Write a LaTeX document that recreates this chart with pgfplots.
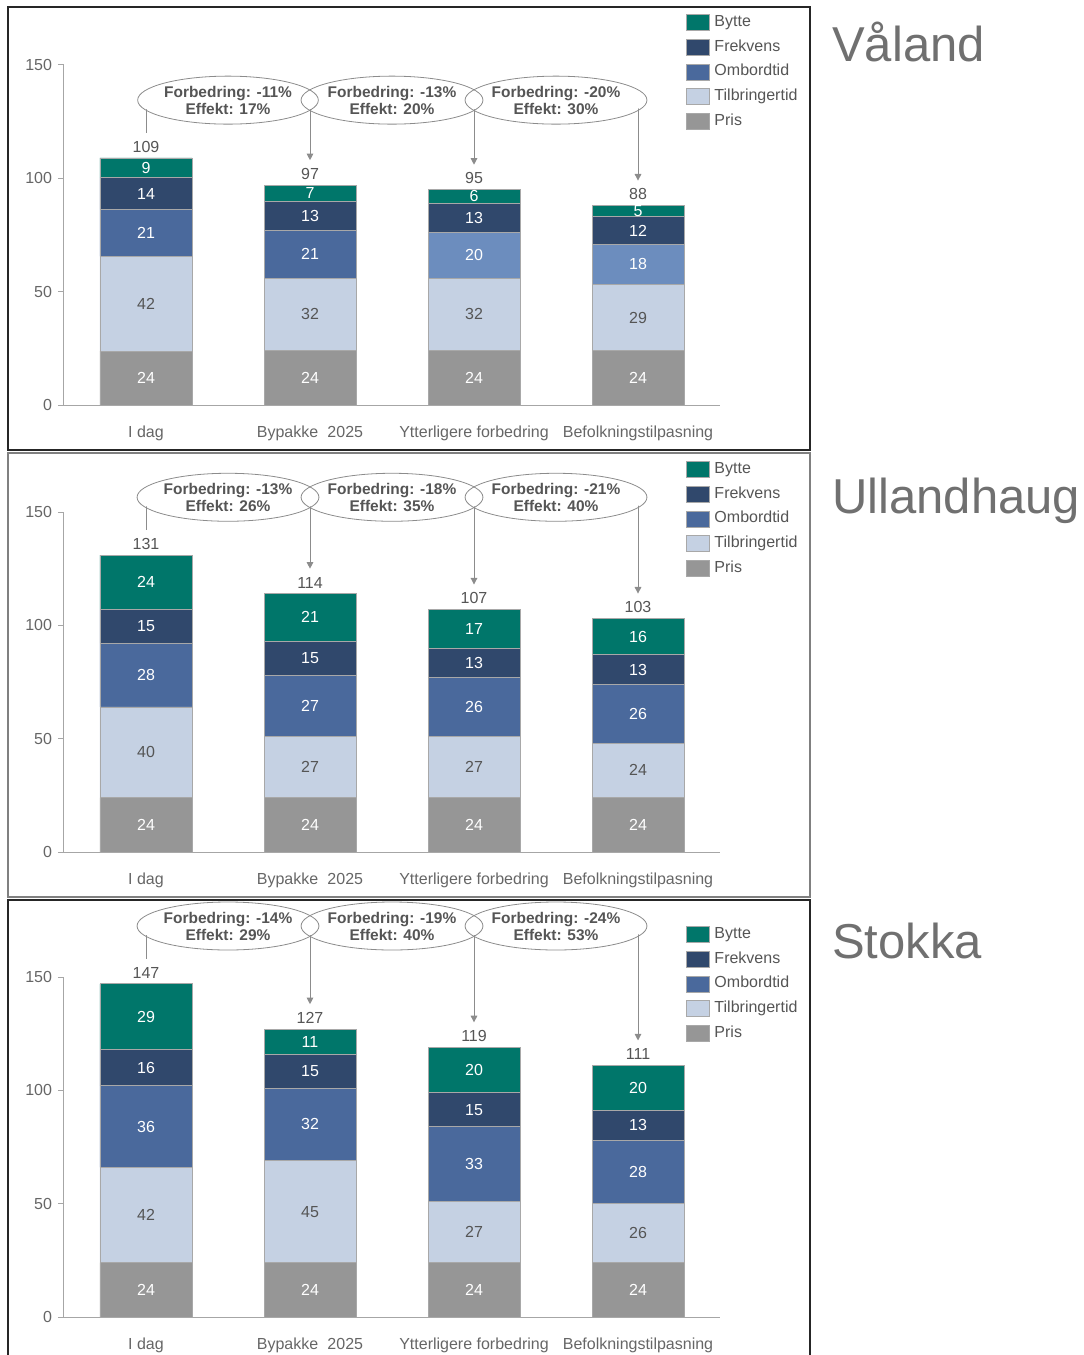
\documentclass[border=0pt]{standalone}
\usepackage{pgfplots}
\pgfplotsset{compat=1.18}
\usepackage{pgfplotstable}
\usepackage{fontspec}
\setmainfont{Liberation Sans}
\usetikzlibrary{arrows.meta,shapes.geometric}

\definecolor{cBytte}{HTML}{00766A}
\definecolor{cFrek}{HTML}{30486C}
\definecolor{cOmb}{HTML}{4A699C}
\definecolor{cOmbL}{HTML}{6C8DBE}
\definecolor{cTilb}{HTML}{C5D1E3}
\definecolor{cPris}{HTML}{969696}
\definecolor{cEdge}{HTML}{A8A8A8}
\definecolor{cAxis}{HTML}{A6A6A6}
\definecolor{cText}{HTML}{555555}
\definecolor{cTick}{HTML}{666666}
\definecolor{cTitle}{HTML}{707070}
\definecolor{cArrow}{HTML}{8C8C8C}

% x: 0 I dag, 1 Bypakke 2025, 2 Ytterligere forbedring, 3 Befolkningstilpasning
% lt = 1 where Ombordtid is drawn in the lighter shade
\pgfplotstableread{
x pris tilb omb  frek bytte total lt
0 23.8 41.8 20.8 13.8 8.8  109   0
1 24   32   21   13   7    97    0
2 24   32   20   13   6    95    1
3 24   29   18   12   5    88    1
}\valand
\pgfplotstableread{
x pris tilb omb frek bytte total lt
0 24 40 28 15 24 131 0
1 24 27 27 15 21 114 0
2 24 27 26 13 17 107 0
3 24 24 26 13 16 103 0
}\ullandhaug
\pgfplotstableread{
x pris tilb omb frek bytte total lt
0 24 42 36 16 29 147 0
1 24 45 32 15 11 127 0
2 24 27 33 15 20 119 0
3 24 26 28 13 20 111 0
}\stokka

\newcommand{\lblfont}{\fontsize{12}{14}\selectfont}

\tikzset{
  bubble/.style={ellipse, minimum width=132pt, minimum height=36pt, inner sep=0pt},
  bubbletext/.style={bubble, draw=cArrow, line width=0.6pt, align=center,
    font=\bfseries\fontsize{11.6}{12.75}\selectfont, text=cText},
}

\pgfplotsset{
  panel/.style={
    scale only axis, width=492pt, height=255pt,
    anchor=south west,
    xmin=-0.5, xmax=3.5, ymin=0, ymax=150,
    clip=false,
    /pgf/number format/assume math mode=true,
  },
  barpanel/.style={
    panel,
    ybar stacked, bar width=69pt,
    axis x line=bottom, axis y line=left,
    axis line style={cAxis, line width=0.75pt, -},
    xtick={0,1,2,3},
    xticklabels={I dag, Bypakke\hspace{0.3em} 2025, Ytterligere forbedring, Befolkningstilpasning},
    xtick style={draw=none},
    ytick={0,50,100,150},
    ytick style={cAxis, line width=0.75pt},
    tick align=outside, major tick length=4.5pt,
    tick label style={font=\lblfont, text=cTick},
    xticklabel style={yshift=-8pt},
    yticklabel style={xshift=-1pt},
    reverse legend,
    legend style={at={(0.948,1.15)}, anchor=north west, draw=none, fill=none,
      inner sep=0pt, font=\lblfont, text=cText, row sep=6pt, column sep=3.75pt,
      nodes={inner sep=0pt, text height=9pt, text depth=3pt}},
    legend cell align=left,
    legend image code/.code={\draw[##1, draw=cEdge, line width=0.5pt] (0pt,-6pt) rectangle (17pt,6pt);},
    every axis plot/.append style={draw=cEdge, line width=0.6pt},
  },
  labelpanel/.style={
    panel, hide axis,
    point meta=explicit,
    nodes near coords={\pgfmathprintnumber[fixed,precision=0]{\pgfplotspointmeta}},
    every node near coord/.append style={anchor=center, inner sep=0pt, font=\lblfont},
  },
  seglabel/.style={draw=none, every node near coord/.append style={text=#1}},
  totlabel/.style={draw=none, every node near coord/.append style={anchor=south, yshift=4pt, text=cText}},
}

% stacked bars with legend for one location
\newcommand{\stackbars}[1]{%
  \addplot[fill=cPris] table[x=x,y=pris]{#1};
  \addlegendentry{Pris}
  \addplot[fill=cTilb] table[x=x,y=tilb]{#1};
  \addlegendentry{Tilbringertid}
  \addplot[fill=cOmb] table[x=x,y expr=\thisrow{omb}*(1-\thisrow{lt})]{#1};
  \addlegendentry{Ombordtid}
  \addplot[fill=cOmbL, forget plot] table[x=x,y expr=\thisrow{omb}*\thisrow{lt}]{#1};
  \addplot[fill=cFrek] table[x=x,y=frek]{#1};
  \addlegendentry{Frekvens}
  \addplot[fill=cBytte] table[x=x,y=bytte]{#1};
  \addlegendentry{Bytte}
}

% value labels inside the segments and totals above the bars
\newcommand{\stacklabels}[1]{%
  \addplot[seglabel=white] table[x=x, y expr=\thisrow{pris}/2, meta=pris]{#1};
  \addplot[seglabel=cText] table[x=x, y expr=\thisrow{pris}+\thisrow{tilb}/2, meta=tilb]{#1};
  \addplot[seglabel=white] table[x=x, y expr=\thisrow{pris}+\thisrow{tilb}+\thisrow{omb}/2, meta=omb]{#1};
  \addplot[seglabel=white] table[x=x, y expr=\thisrow{pris}+\thisrow{tilb}+\thisrow{omb}+\thisrow{frek}/2, meta=frek]{#1};
  \addplot[seglabel=white] table[x=x, y expr=\thisrow{pris}+\thisrow{tilb}+\thisrow{omb}+\thisrow{frek}+\thisrow{bytte}/2, meta=bytte]{#1};
  \addplot[totlabel] table[x=x, y=total, meta=total]{#1};
}

% callouts: #1 bubble height, #2..#5 line ends above bars 0..3, #6 #7 texts
\newcommand{\callouts}[7]{%
  \draw[cArrow, line width=0.75pt] (axis cs:0,#1) -- (axis cs:0,#2);
  \draw[cArrow, line width=0.75pt, -{Triangle[length=5pt,width=5pt]}] (axis cs:1,#1) -- (axis cs:1,#3);
  \draw[cArrow, line width=0.75pt, -{Triangle[length=5pt,width=5pt]}] (axis cs:2,#1) -- (axis cs:2,#4);
  \draw[cArrow, line width=0.75pt, -{Triangle[length=5pt,width=5pt]}] (axis cs:3,#1) -- (axis cs:3,#5);
  \node[bubble, fill=white] at (axis cs:0.5,#1) {};
  \node[bubble, fill=white] at (axis cs:1.5,#1) {};
  \node[bubble, fill=white] at (axis cs:2.5,#1) {};
  \node[bubbletext] at (axis cs:0.5,#1) {#6};
  \node[bubbletext] at (axis cs:1.5,#1) {#7};
}
\newcommand{\thirdcallout}[2]{%
  \node[bubbletext] at (axis cs:2.5,#1) {#2};
}

\begin{document}
\begin{tikzpicture}
\path[use as bounding box] (0pt,0pt) rectangle (813pt,-1016.25pt);

% frames
\draw[black!85, line width=1.5pt] (6pt,-5.25pt) rectangle (607.5pt,-337.5pt);
\draw[black!50, line width=1.5pt] (6pt,-339.75pt) rectangle (607.5pt,-672.75pt);
\draw[black!85, line width=1.5pt] (6pt,-1020pt) -- (6pt,-675pt) -- (607.5pt,-675pt) -- (607.5pt,-1020pt);

% titles
\node[anchor=base west, inner sep=0pt, font=\fontsize{36.75}{40}\selectfont, text=cTitle] at (624pt,-46.5pt) {Våland};
\node[anchor=base west, inner sep=0pt, font=\fontsize{36.75}{40}\selectfont, text=cTitle] at (624pt,-384.75pt) {Ullandhaug};
\node[anchor=base west, inner sep=0pt, font=\fontsize{36.75}{40}\selectfont, text=cTitle] at (624pt,-718.5pt) {Stokka};

% Våland
\begin{axis}[barpanel, at={(48pt,-303.75pt)}]
  \stackbars{\valand}
\end{axis}
\begin{axis}[labelpanel, at={(48pt,-303.75pt)}]
  \stacklabels{\valand}
  \callouts{134.5}{120}{108}{106}{99}{Forbedring: -11\%\\Effekt: 17\%}{Forbedring: -13\%\\Effekt: 20\%}
  \thirdcallout{134.5}{Forbedring: -20\%\\Effekt: 30\%}
\end{axis}

% Ullandhaug
\begin{axis}[barpanel, at={(48pt,-639pt)}]
  \stackbars{\ullandhaug}
\end{axis}
\begin{axis}[labelpanel, at={(48pt,-639pt)}]
  \stacklabels{\ullandhaug}
  \callouts{156.5}{142}{125}{118}{114}{Forbedring: -13\%\\Effekt: 26\%}{Forbedring: -18\%\\Effekt: 35\%}
  \thirdcallout{156.5}{Forbedring: -21\%\\Effekt: 40\%}
\end{axis}

% Stokka
\begin{axis}[barpanel, at={(48pt,-987.75pt)}]
  \stackbars{\stokka}
\end{axis}
\begin{axis}[labelpanel, at={(48pt,-987.75pt)}]
  \stacklabels{\stokka}
  \callouts{172.5}{158}{138}{130}{122}{Forbedring: -14\%\\Effekt: 29\%}{Forbedring: -19\%\\Effekt: 40\%}
  \thirdcallout{172.5}{Forbedring: -24\%\\Effekt: 53\%}
\end{axis}
\end{tikzpicture}
\end{document}
